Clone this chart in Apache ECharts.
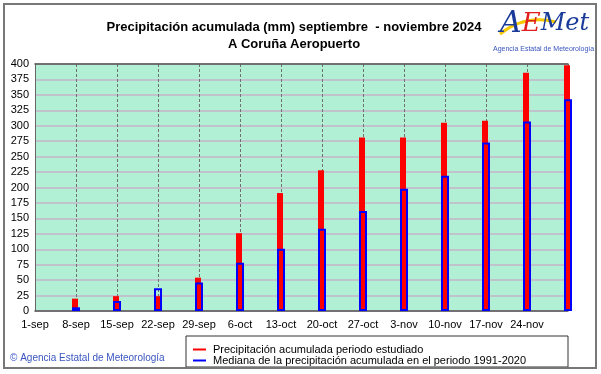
<!DOCTYPE html>
<html>
<head>
<meta charset="utf-8">
<script src="https://cdn.jsdelivr.net/npm/echarts@6/dist/echarts.min.js"></script>
<style>
html,body{margin:0;padding:0;background:#fff;}
#c{width:601px;height:374px;}
</style>
</head>
<body>
<div id="c"></div>
<script>
const categories = ['1-sep','8-sep','15-sep','22-sep','29-sep','6-oct','13-oct','20-oct','27-oct','3-nov','10-nov','17-nov','24-nov','1-dec'];
const tickLabels = ['1-sep','8-sep','15-sep','22-sep','29-sep','6-oct','13-oct','20-oct','27-oct','3-nov','10-nov','17-nov','24-nov',''];
const precipitacion = [null,20,24,24,54,126,191,228,281,281,305,308,386,398];
const mediana = [null,6,16,37,46,78,101,133,162,198,219,273,307,343];
const seriesNames = ['Precipitación acumulada periodo estudiado','Mediana de la precipitación acumulada en el periodo 1991-2020'];

const chart = echarts.init(document.getElementById('c'), null, {renderer:'canvas'});
const FONT = '"Liberation Sans", Arial, sans-serif';
chart.setOption({
  animation:false,
  backgroundColor:'#fff',
  textStyle:{fontFamily:FONT},
  grid:{left:35,right:33,top:64,bottom:63,show:true,backgroundColor:'#b2f0d6',borderWidth:0},
  xAxis:[{
    type:'category', data:categories, boundaryGap:false,
    axisLine:{lineStyle:{color:'#555',width:1.5}},
    axisTick:{show:false},
    axisLabel:{interval:0,color:'#000',fontSize:11,fontFamily:FONT,margin:8,
      formatter:(v,i)=>tickLabels[i]},
    splitLine:{show:true,interval:0,lineStyle:{color:'#707070',type:[3,2],width:1}}
  },{
    type:'category', data:categories, boundaryGap:false, position:'top',
    axisLine:{lineStyle:{color:'#555',width:1.5}},
    axisTick:{show:false}, axisLabel:{show:false}, splitLine:{show:false}
  }],
  yAxis:{
    type:'value', min:0, max:400, interval:25,
    axisLine:{show:true,lineStyle:{color:'#666',width:1}},
    axisTick:{show:false},
    axisLabel:{color:'#000',fontSize:11,fontFamily:FONT,margin:6},
    splitLine:{lineStyle:{color:'#c4b4c8',width:1.5}}
  },
  legend:{
    orient:'vertical', left:188, top:339, itemGap:0,
    itemWidth:13, itemHeight:2, icon:'rect',
    textStyle:{fontSize:11,color:'#000',fontFamily:FONT,padding:[0,0,0,2]},
    data:[
      {name:seriesNames[0],itemStyle:{color:'#ff0000',borderWidth:0}},
      {name:seriesNames[1],itemStyle:{color:'#0000ff',borderWidth:0}}
    ]
  },
  graphic:[
    {type:'rect',shape:{x:4,y:4,width:592,height:364},style:{fill:'none',stroke:'#777',lineWidth:2},z:0},
    {type:'text',x:294,y:21,style:{text:'Precipitación acumulada (mm) septiembre  - noviembre 2024',font:'bold 13px '+FONT,fill:'#000',align:'center'}},
    {type:'text',x:294,y:38,style:{text:'A Coruña Aeropuerto',font:'bold 13px '+FONT,fill:'#000',align:'center'}},
    {type:'rect',shape:{x:186,y:336,width:382,height:31},style:{fill:'#fff',stroke:'#333',lineWidth:1},z:-1,silent:true},
    {type:'text',x:10,y:353,style:{text:'© Agencia Estatal de Meteorología',font:'10px '+FONT,fill:'#3a55c0'}},
    {type:'bezierCurve',shape:{x1:500,y1:34,x2:556,y2:22,cpx1:520,cpy1:18,cpx2:540,cpy2:18},style:{stroke:'#f5c800',lineWidth:3,fill:'none'}},
    {type:'text',x:500,y:9,style:{rich:{a:{font:'italic 30px "DejaVu Serif", serif',fill:'#1a3a9a'},e:{font:'italic 26px "DejaVu Serif", serif',fill:'#e02020'},m:{font:'italic 24px "DejaVu Serif", serif',fill:'#1a3a9a'}},text:'{a|A}{e|E}{m|Met}'}},
    {type:'text',x:493,y:46,style:{text:'Agencia Estatal de Meteorología',font:'7px '+FONT,fill:'#3a55c0'}}
  ],
  series:[
    {name:seriesNames[0],type:'bar',data:precipitacion,barWidth:6,barGap:'-100%',clip:false,
      itemStyle:{color:'#ff0000'},z:3},
    {name:seriesNames[1],type:'bar',data:mediana,barWidth:8,barGap:'-100%',clip:false,
      itemStyle:{color:'rgba(0,0,0,0)',borderColor:'#0000ff',borderWidth:2},z:4}
  ]
});
</script>
</body>
</html>
